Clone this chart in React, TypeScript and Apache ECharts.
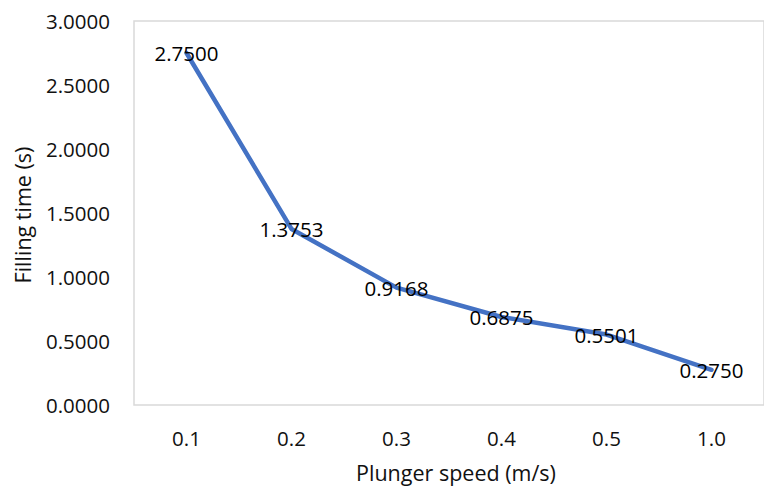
import React, { useEffect, useRef } from "react";
import * as echarts from "echarts";

const categories = ["0.1", "0.2", "0.3", "0.4", "0.5", "1.0"];
const fillingTime = [2.75, 1.3753, 0.9168, 0.6875, 0.5501, 0.275];
const yMin = 0;
const yMax = 3;
const yInterval = 0.5;
const xTitle = "Plunger speed (m/s)";
const yTitle = "Filling time (s)";

const FONT = "'Open Sans', 'Noto Sans', sans-serif";

export default function App() {
  const ref = useRef<HTMLDivElement>(null);
  useEffect(() => {
    if (!ref.current) return;
    const chart = echarts.init(ref.current, undefined, { renderer: "svg" });
    chart.setOption({
      animation: false,
      backgroundColor: "#ffffff",
      grid: {
        left: 134,
        top: 21,
        width: 644,
        height: 384,
        show: true,
        borderColor: "#d9d9d9",
        borderWidth: 1.5,
        backgroundColor: "transparent",
      },
      xAxis: {
        type: "category",
        data: categories,
        boundaryGap: true,
        axisLine: { show: false },
        axisTick: { show: false },
        splitLine: { show: false },
        axisLabel: {
          color: "#111",
          fontFamily: FONT,
          fontSize: 20.5,
          margin: 22,
        },
      },
      yAxis: {
        type: "value",
        min: yMin,
        max: yMax,
        interval: yInterval,
        axisLine: { show: false },
        axisTick: { show: false },
        splitLine: { show: false },
        axisLabel: {
          color: "#111",
          fontFamily: FONT,
          fontSize: 20.5,
          margin: 24,
          formatter: (v: number) => v.toFixed(4),
        },
      },
      graphic: [
        {
          type: "text",
          x: 456,
          y: 472,
          style: {
            text: xTitle,
            fill: "#111",
            font: `21.5px ${FONT}`,
            align: "center",
            verticalAlign: "middle",
          },
        },
        {
          type: "text",
          x: 22,
          y: 215,
          rotation: Math.PI / 2,
          style: {
            text: yTitle,
            fill: "#111",
            font: `21.5px ${FONT}`,
            align: "center",
            verticalAlign: "middle",
          },
        },
      ],
      series: [
        {
          type: "line",
          data: fillingTime,
          symbol: "circle",
          symbolSize: 1,
          showSymbol: true,
          itemStyle: { color: "#4472C4" },
          lineStyle: { color: "#4472C4", width: 4.5, cap: "round", join: "round" },
          label: {
            show: true,
            position: "inside",
            color: "#000",
            fontFamily: FONT,
            fontSize: 20.5,
            formatter: (p: any) => Number(p.value).toFixed(4),
          },
          z: 3,
        },
      ],
    });
    return () => chart.dispose();
  }, []);
  return (
    <div
      ref={ref}
      style={{ position: "fixed", left: 0, top: 0, width: 764, height: 486 }}
    />
  );
}
